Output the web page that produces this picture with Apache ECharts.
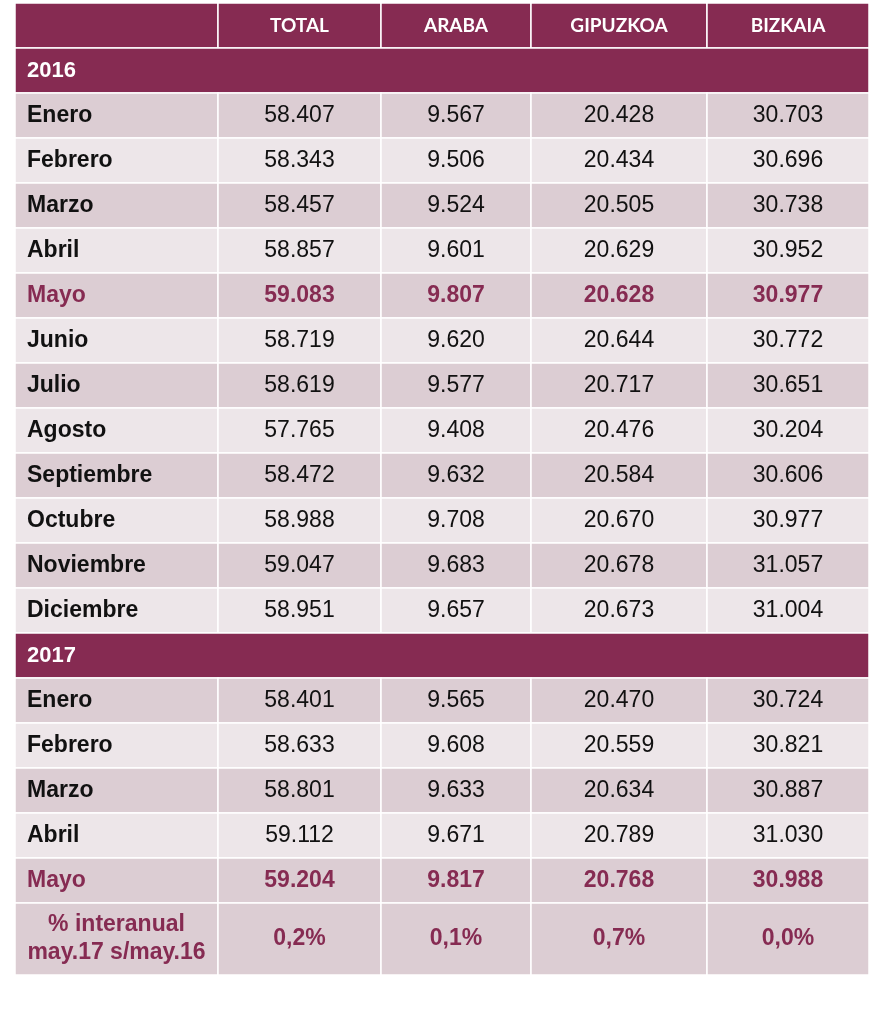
<!DOCTYPE html>
<html><head><meta charset="utf-8">
<script src="https://cdn.jsdelivr.net/npm/echarts@6/dist/echarts.min.js"></script>
<style>html,body{margin:0;background:#fff}#main{width:888px;height:1028px}</style>
</head><body><div id="main"></div>
<script>
// datos
var headers = ['', 'TOTAL', 'ARABA', 'GIPUZKOA', 'BIZKAIA'];
var meses2016 = ['Enero','Febrero','Marzo','Abril','Mayo','Junio','Julio','Agosto','Septiembre','Octubre','Noviembre','Diciembre'];
var total2016 = ['58.407','58.343','58.457','58.857','59.083','58.719','58.619','57.765','58.472','58.988','59.047','58.951'];
var araba2016 = ['9.567','9.506','9.524','9.601','9.807','9.620','9.577','9.408','9.632','9.708','9.683','9.657'];
var gipuzkoa2016 = ['20.428','20.434','20.505','20.629','20.628','20.644','20.717','20.476','20.584','20.670','20.678','20.673'];
var bizkaia2016 = ['30.703','30.696','30.738','30.952','30.977','30.772','30.651','30.204','30.606','30.977','31.057','31.004'];
var meses2017 = ['Enero','Febrero','Marzo','Abril','Mayo'];
var total2017 = ['58.401','58.633','58.801','59.112','59.204'];
var araba2017 = ['9.565','9.608','9.633','9.671','9.817'];
var gipuzkoa2017 = ['20.470','20.559','20.634','20.789','20.768'];
var bizkaia2017 = ['30.724','30.821','30.887','31.030','30.988'];
var interanual = ['0,2%','0,1%','0,7%','0,0%'];

// layout
var colEdges = [0, 203, 366, 516, 692, 854];
var MAROON = '#862b52', DARK = '#dccdd3', LIGHT = '#ede6e9';

var rows = []; // {type, cells, h}
rows.push({type:'header', cells: headers, h:45});
function addYear(y, meses, t, a, g, b) {
  rows.push({type:'year', cells:[y], h:45});
  for (var i = 0; i < meses.length; i++)
    rows.push({type: meses[i] === 'Mayo' ? 'hl' : 'data', alt: i % 2, cells:[meses[i], t[i], a[i], g[i], b[i]], h:45});
}
addYear('2016', meses2016, total2016, araba2016, gipuzkoa2016, bizkaia2016);
addYear('2017', meses2017, total2017, araba2017, gipuzkoa2017, bizkaia2017);
rows.push({type:'hl', alt:0, cells:['% interanual\nmay.17 s/may.16'].concat(interanual), h:72});

var data = [], y0 = 0;
rows.forEach(function (r, ri) {
  if (r.type === 'year') data.push([0, y0, colEdges[5], y0 + r.h, ri, 0]);
  else for (var c = 0; c < 5; c++) data.push([colEdges[c], y0, colEdges[c+1], y0 + r.h, ri, c]);
  y0 += r.h;
});

var chart = echarts.init(document.getElementById('main'));
chart.setOption({
  animation: false,
  grid: {left: 15, right: 19, top: 3, height: y0},
  xAxis: {type: 'value', min: 0, max: colEdges[5], show: false},
  yAxis: {type: 'value', min: 0, max: y0, inverse: true, show: false},
  series: [{
    type: 'custom',
    data: data,
    renderItem: function (params, api) {
      var p1 = api.coord([api.value(0), api.value(1)]);
      var p2 = api.coord([api.value(2), api.value(3)]);
      var r = rows[api.value(4)], c = api.value(5);
      var fill, color = '#111', weight = 'normal', font = '"Liberation Sans Narrow", "Liberation Sans", sans-serif', size = 23, align = 'center';
      if (r.type === 'header' || r.type === 'year') { fill = MAROON; color = '#fff'; weight = 'bold'; size = r.type === 'header' ? 19 : 22; if (r.type === 'header') font = 'Lato, sans-serif'; }
      else { fill = r.alt ? LIGHT : DARK; if (r.type === 'hl') { color = MAROON; weight = 'bold'; } }
      if (c === 0 && r.type !== 'year' && r.type !== 'header') { weight = 'bold'; }
      var isInter = r.h > 50;
      if (c === 0 && !isInter) align = 'left';
      var tx = align === 'left' ? p1[0] + 12 : (p1[0] + p2[0]) / 2;
      return {
        type: 'group',
        children: [
          {type: 'rect', shape: {x: p1[0], y: p1[1], width: p2[0] - p1[0], height: p2[1] - p1[1]},
           style: {fill: fill, stroke: '#fff', lineWidth: 1.5}},
          {type: 'text', style: {text: r.cells[c], x: tx, y: (p1[1] + p2[1]) / 2, align: align, verticalAlign: 'middle',
            fill: color, font: weight + ' ' + size + 'px ' + font, lineHeight: 28}}
        ]
      };
    }
  }]
});
</script>
</body></html>
